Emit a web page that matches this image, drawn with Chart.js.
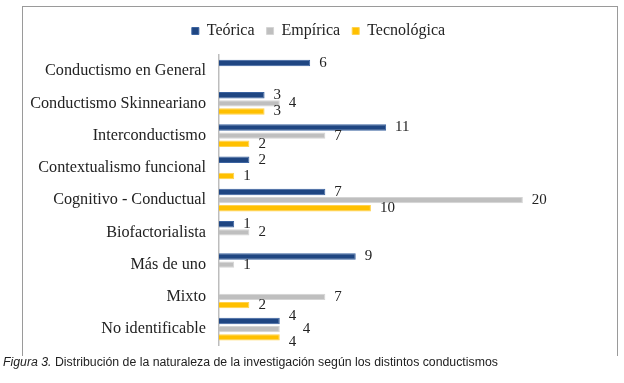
<!DOCTYPE html>
<html>
<head>
<meta charset="utf-8">
<script src="https://cdn.jsdelivr.net/npm/chart.js@4"></script>
<style>
  html, body { margin: 0; padding: 0; background: #fff; }
  body { width: 624px; height: 383px; position: relative; overflow: hidden; }
  #frame {
    position: absolute; left: 22px; top: 6px; width: 594px; height: 349px;
    border-left: 1.5px solid #9a9a9a; border-top: 1.5px solid #9a9a9a; border-right: 1.5px solid #9a9a9a;
  }
  #chart { position: absolute; left: 0; top: 0; }
  #caption {
    position: absolute; left: 3px; top: 355px;
    font-family: "Liberation Sans", sans-serif; font-size: 12.3px; color: #222; white-space: nowrap;
  }
</style>
</head>
<body>
<div id="frame"><canvas id="chart" width="594" height="361"></canvas></div>
<div id="caption"><i>Figura 3.</i> Distribución de la naturaleza de la investigación según los distintos conductismos</div>
<script>
const categories = [
  'Conductismo en General',
  'Conductismo Skinneariano',
  'Interconductismo',
  'Contextualismo funcional',
  'Cognitivo - Conductual',
  'Biofactorialista',
  'Más de uno',
  'Mixto',
  'No identificable'
];
const teorica     = [6, 3, 11, 2, 7, 1, 9, 0, 4];
const empirica    = [0, 4, 7, 0, 20, 2, 1, 7, 4];
const tecnologica = [0, 3, 2, 1, 10, 0, 0, 2, 4];

const SERIF = '"Liberation Serif", "Times New Roman", serif';

// extra room under the legend
const legendGap = {
  id: 'legendGap',
  beforeInit(chart) {
    const fit = chart.legend.fit;
    chart.legend.fit = function () {
      fit.bind(chart.legend)();
      this.height += 6;
    };
  }
};

// value labels to the right of each bar, spread out a bit when they collide
const valueLabels = {
  id: 'valueLabels',
  afterDatasetsDraw(chart) {
    const ctx = chart.ctx;
    ctx.save();
    ctx.font = '15px ' + SERIF;
    ctx.fillStyle = '#222';
    ctx.textBaseline = 'middle';
    ctx.textAlign = 'left';
    categories.forEach((_, i) => {
      const items = [];
      chart.data.datasets.forEach((ds, d) => {
        const v = ds.data[i];
        if (!v) return;
        const bar = chart.getDatasetMeta(d).data[i];
        const text = String(v);
        items.push({ text, x: bar.x + 9, y: bar.y, w: ctx.measureText(text).width });
      });
      let clash = false;
      for (let a = 0; a < items.length - 1; a++) {
        const p = items[a], q = items[a + 1];
        if (p.x < q.x + q.w + 2 && q.x < p.x + p.w + 2) clash = true;
      }
      if (clash && items.length > 1) {
        items[0].y -= 5;
        items[items.length - 1].y += 5;
        if (items.length === 3) items[1].x += 14;
      }
      items.forEach(it => ctx.fillText(it.text, it.x, it.y));
    });
    ctx.restore();
  }
};

new Chart(document.getElementById('chart'), {
  type: 'bar',
  data: {
    labels: categories,
    datasets: [
      { label: 'Teórica', data: teorica, backgroundColor: '#1f4682', borderColor: '#3b63a0', borderWidth: 1 },
      { label: 'Empírica', data: empirica, backgroundColor: '#bfbfbf', borderColor: '#d4d4d4', borderWidth: 1 },
      { label: 'Tecnológica', data: tecnologica, backgroundColor: '#ffc000', borderColor: '#ffd24d', borderWidth: 1 }
    ]
  },
  options: {
    indexAxis: 'y',
    responsive: false,
    animation: false,
    maintainAspectRatio: false,
    datasets: { bar: { barPercentage: 0.78, categoryPercentage: 0.76 } },
    layout: { padding: { left: 0, right: 3, top: 4, bottom: 3 } },
    plugins: {
      legend: {
        position: 'top',
        labels: {
          boxWidth: 7, boxHeight: 7, padding: 12,
          color: '#222',
          font: { family: SERIF, size: 16 }
        }
      },
      tooltip: { enabled: false }
    },
    scales: {
      x: { display: false, min: 0, max: 26 },
      y: {
        afterFit: s => { s.width = 196; },
        grid: { display: false, drawTicks: false },
        border: { display: true, color: '#bdbdbd', width: 1.5 },
        ticks: { color: '#222', padding: 13, font: { family: SERIF, size: 16.2 } }
      }
    }
  },
  plugins: [legendGap, valueLabels]
});
</script>
</body>
</html>
